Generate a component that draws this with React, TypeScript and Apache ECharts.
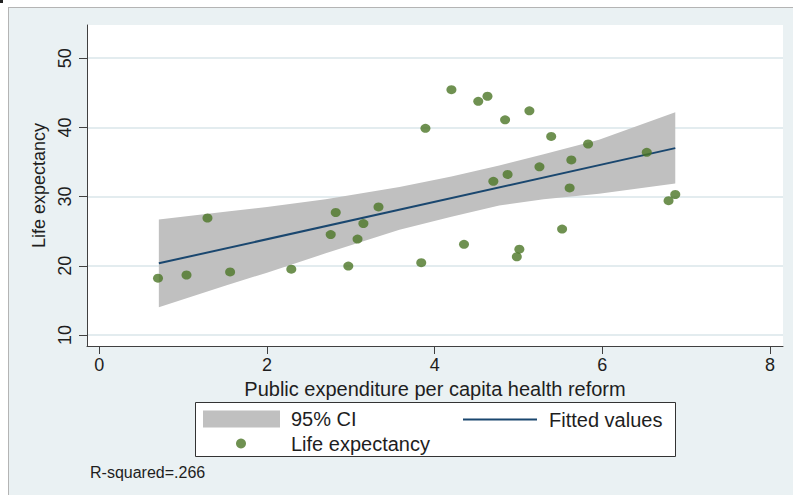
import React, { useEffect, useRef } from "react";
import * as echarts from "echarts";

// Scatter: Life expectancy vs public expenditure per capita
const lifeX = [0.70, 1.04, 1.29, 1.56, 2.29, 2.82, 2.76, 3.08, 3.15, 3.33, 2.97, 3.89, 3.84, 4.20, 4.52, 4.63, 4.84, 5.13, 5.39, 5.83, 6.53, 5.63, 5.25, 4.87, 4.70, 5.61, 6.87, 6.79, 5.52, 4.35, 5.01, 4.98];
const lifeY = [18.2, 18.66, 26.9, 19.1, 19.5, 27.7, 24.5, 23.85, 26.1, 28.5, 19.96, 39.87, 20.45, 45.45, 43.77, 44.5, 41.1, 42.4, 38.7, 37.6, 36.4, 35.3, 34.3, 33.2, 32.2, 31.25, 30.3, 29.4, 25.3, 23.1, 22.4, 21.3];

// Fitted values
const fitX = [0.71, 6.87];
const fitY = [20.35, 37.0];

// 95% confidence band
const ciX = [0.71, 1.5, 2.0, 2.7, 3.58, 4.2, 4.77, 5.3, 5.96, 6.87];
const ciLower = [14.0, 17.1, 19.0, 21.8, 25.2, 27.1, 28.7, 29.6, 30.4, 31.9];
const ciUpper = [26.7, 27.8, 28.5, 29.6, 31.4, 32.9, 34.5, 36.1, 38.2, 42.2];

const xTicks = [0, 2, 4, 6, 8];
const yTicks = [10, 20, 30, 40, 50];

const FONT = "'Liberation Sans', Arial, sans-serif";
const TEXT = "#1e1e1e";

export default function App() {
  const ref = useRef<HTMLDivElement>(null);
  useEffect(() => {
    if (!ref.current) return;
    const chart = echarts.init(ref.current, undefined, { renderer: "svg" });
    const legendText = (pad: number) => ({
      fontSize: 20,
      color: TEXT,
      fontFamily: FONT,
      lineHeight: 17,
      padding: [0, 0, 0, pad],
    });
    const option: any = {
      animation: false,
      backgroundColor: "#eaf1f3",
      textStyle: { fontFamily: FONT, color: TEXT },
      grid: {
        left: 87,
        right: 10,
        top: 25,
        bottom: 149,
        show: true,
        backgroundColor: "#ffffff",
        borderWidth: 0,
      },
      xAxis: {
        type: "value",
        min: -0.147,
        max: 8.155,
        axisLine: { show: true, onZero: false, lineStyle: { color: "#404040", width: 1 } },
        axisTick: { show: true, length: 8, customValues: xTicks, lineStyle: { color: "#404040" } },
        axisLabel: { customValues: xTicks, margin: 10, fontSize: 18, color: TEXT, fontFamily: FONT },
        splitLine: { show: false },
        name: "Public expenditure per capita health reform",
        nameLocation: "middle",
        nameGap: 23,
        nameTextStyle: { fontSize: 20, color: TEXT, fontFamily: FONT },
      },
      yAxis: {
        type: "value",
        min: 8.4,
        max: 54.8,
        axisLine: { show: true, onZero: false, lineStyle: { color: "#404040", width: 1 } },
        axisTick: { show: true, length: 8, customValues: yTicks, lineStyle: { color: "#404040" } },
        axisLabel: { customValues: yTicks, rotate: 90, margin: 13, fontSize: 18, color: TEXT, fontFamily: FONT },
        splitLine: { show: true, lineStyle: { color: "#e3ecef", width: 2 } },
        name: "Life expectancy",
        nameLocation: "middle",
        nameGap: 35,
        nameRotate: 90,
        nameTextStyle: { fontSize: 18, color: TEXT, fontFamily: FONT },
      },
      legend: [
        {
          data: [{ name: "95% CI", icon: "rect" }],
          left: 203,
          top: 409,
          orient: "vertical",
          itemWidth: 77,
          itemHeight: 17,
          padding: 0,
          selectedMode: false,
          textStyle: legendText(6),
        },
        {
          data: [{ name: "Fitted values", icon: "rect" }],
          left: 463,
          top: 409.5,
          orient: "vertical",
          itemWidth: 74,
          itemHeight: 2,
          padding: 0,
          selectedMode: false,
          textStyle: legendText(7),
        },
        {
          data: [{ name: "Life expectancy", icon: "circle" }],
          left: 236,
          top: 433.5,
          orient: "vertical",
          itemWidth: 10,
          itemHeight: 10,
          padding: 0,
          selectedMode: false,
          textStyle: legendText(40),
        },
      ],
      graphic: [
        { type: "rect", z: 0, shape: { x: 0, y: 0, width: 793, height: 7 }, style: { fill: "#ffffff" } },
        { type: "rect", z: 0, shape: { x: 0, y: 0, width: 8, height: 495 }, style: { fill: "#ffffff" } },
        { type: "line", z: 0, shape: { x1: 8, y1: 7.5, x2: 793, y2: 7.5 }, style: { stroke: "#b4b4b4", lineWidth: 1 } },
        { type: "line", z: 0, shape: { x1: 8.5, y1: 7, x2: 8.5, y2: 495 }, style: { stroke: "#b4b4b4", lineWidth: 1 } },
        { type: "rect", z: 0, shape: { x: 0, y: 0, width: 3, height: 3 }, style: { fill: "#222222" } },
        {
          type: "rect",
          z: 1,
          shape: { x: 195.5, y: 402.5, width: 480, height: 54 },
          style: { fill: "#ffffff", stroke: "#333333", lineWidth: 1 },
        },
        {
          type: "text",
          z: 1,
          x: 90,
          y: 472,
          style: { text: "R-squared=.266", fontSize: 16, fontFamily: FONT, fill: TEXT, verticalAlign: "middle" },
        },
      ],
      series: [
        {
          type: "custom",
          name: "95% CI",
          coordinateSystem: "cartesian2d",
          silent: true,
          z: 1,
          itemStyle: { color: "#c0c0c0" },
          data: ciX.map((x, i) => [x, ciLower[i], ciUpper[i]]),
          encode: { x: 0, y: [1, 2] },
          renderItem: (params: any, api: any) => {
            if (params.dataIndex !== 0) return { type: "group", children: [] };
            const upper = ciX.map((x, i) => api.coord([x, ciUpper[i]]));
            const lower = ciX.map((x, i) => api.coord([x, ciLower[i]])).reverse();
            return {
              type: "polygon",
              shape: { points: upper.concat(lower) },
              style: { fill: "#c0c0c0" },
            };
          },
        },
        {
          type: "line",
          name: "Fitted values",
          z: 2,
          symbol: "none",
          silent: true,
          data: fitX.map((x, i) => [x, fitY[i]]),
          itemStyle: { color: "#1a476f" },
          lineStyle: { color: "#1a476f", width: 2 },
        },
        {
          type: "scatter",
          name: "Life expectancy",
          z: 3,
          symbol: "circle",
          symbolSize: [10, 9],
          silent: true,
          itemStyle: { color: "#4b7625" },
          data: lifeX.map((x, i) => [x, lifeY[i]]),
        },
      ],
    };
    chart.setOption(option);
    return () => chart.dispose();
  }, []);
  return (
    <div
      ref={ref}
      style={{ position: "fixed", left: 0, top: 0, width: 793, height: 495 }}
    />
  );
}
